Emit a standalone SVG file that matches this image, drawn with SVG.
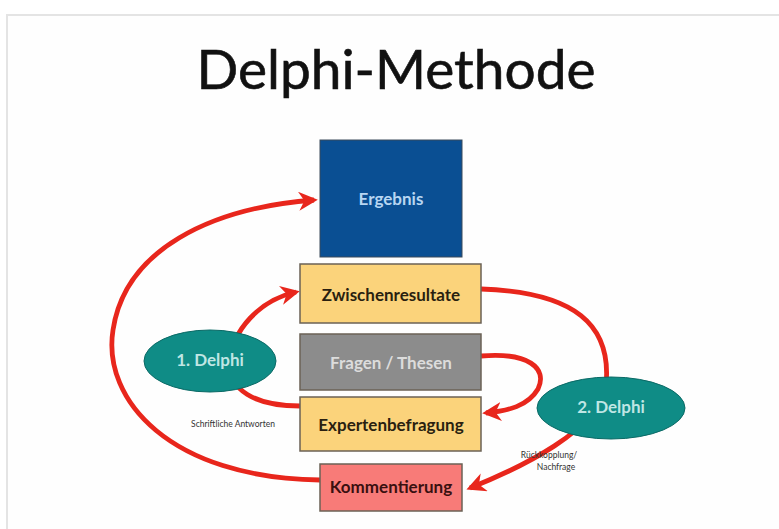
<svg xmlns="http://www.w3.org/2000/svg" width="779" height="529" viewBox="0 0 779 529">
<defs>
<marker id="ah" viewBox="0 0 10 10" refX="8" refY="5" markerWidth="4" markerHeight="4" orient="auto" markerUnits="strokeWidth">
<path d="M0,0 L10,5 L0,10 L3,5 z" fill="#e8261c"/>
</marker>
<style>
.box{stroke:#6b6256;stroke-width:1.5}
.yel{fill:#fbd37b}
.lbl{font-family:"Lato","Open Sans",sans-serif;font-size:17px;text-anchor:middle;font-weight:bold}
.dark{fill:#2a1f10}
.conn{fill:none;stroke:#e8261c;stroke-width:4.8;marker-end:url(#ah)}
.ell{fill:#0f8c86;stroke:#0b6a66;stroke-width:1}
.small{font-family:"Lato","Open Sans",sans-serif;font-size:8.5px;fill:#333;text-anchor:middle}
</style>
</defs>
<rect x="0" y="0" width="779" height="529" fill="#ffffff"/>
<rect x="7" y="15" width="780" height="520" fill="#fefefe" stroke="#e4e4e4" stroke-width="2"/>
<text x="396" y="89" font-family="Lato,'Open Sans',sans-serif" font-size="55" fill="#111" text-anchor="middle" stroke="#111" stroke-width="0.6">Delphi-Methode</text>

<g id="connectors">
<path class="conn" d="M320 480 C170 478,102 400,113 330 C125 250,210 208,314 200"/>
<path class="conn" d="M300 406 C255 406,228 390,230 362 C232 330,260 300,296 292"/>
<path class="conn" d="M481 289 C575 292,612 325,606 385 C600 430,520 468,470 488"/>
<path class="conn" d="M481 356 C528 352,548 368,538 389 C528 406,508 411,486 413"/>
</g>

<g id="ergebnis">
<rect x="320" y="140" width="142" height="117" fill="#0a4f93" stroke="#3a4a5a" stroke-width="1"/>
<text class="lbl" x="391" y="205" font-size="16" fill="#b8d6f2">Ergebnis</text>
</g>
<g id="zwischenresultate">
<rect class="box yel" x="300" y="264" width="181" height="59"/>
<text class="lbl dark" x="391" y="301">Zwischenresultate</text>
</g>
<g id="fragen">
<rect class="box" x="300" y="334" width="181" height="56" fill="#8c8c8c"/>
<text class="lbl" x="391" y="369" fill="#dcdcdc">Fragen / Thesen</text>
</g>
<g id="expertenbefragung">
<rect class="box yel" x="300" y="397" width="181" height="54"/>
<text class="lbl dark" x="391" y="431">Expertenbefragung</text>
</g>
<g id="kommentierung">
<rect class="box" x="320" y="464" width="142" height="47" fill="#f87b78"/>
<text class="lbl" x="391" y="493" font-size="14" fill="#3a1010">Kommentierung</text>
</g>
<g id="delphi1">
<ellipse class="ell" cx="210" cy="361" rx="66" ry="31"/>
<text class="lbl" x="210" y="366" font-size="12.5" font-weight="normal" fill="#bfe6e4">1. Delphi</text>
</g>
<g id="delphi2">
<ellipse class="ell" cx="611" cy="408" rx="74" ry="31"/>
<text class="lbl" x="611" y="413" font-size="12.5" font-weight="normal" fill="#bfe6e4">2. Delphi</text>
</g>
<text class="small" x="233" y="427">Schriftliche Antworten</text>
<text class="small" x="549" y="458">Rückkopplung/</text>
<text class="small" x="556" y="470">Nachfrage</text>
</svg>
